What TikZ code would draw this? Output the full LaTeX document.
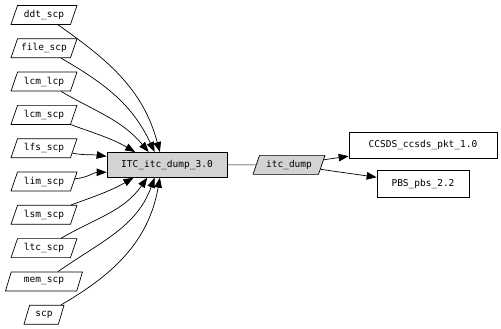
\documentclass[tikz,border=0pt]{standalone}
\usepackage{fontspec}
\setmonofont{DejaVu Sans Mono}
\usepackage{xcolor}
\usepackage{tikz}
\usetikzlibrary{positioning, shapes.geometric, arrows.meta}
\definecolor{boxgray}{HTML}{D3D3D3}

\begin{document}
\begin{tikzpicture}[node distance=33.3pt, on grid, line width=0.7pt,
        >={Triangle[length=10pt,width=7.5pt]},
        every node/.style={font=\ttfamily\fontsize{9.5}{11}\selectfont},
        scpnode/.style={draw, trapezium, trapezium left angle=68, trapezium right angle=112,
            trapezium stretches body, minimum width=66pt, minimum height=19pt, inner xsep=1pt},
        pkg/.style={draw, rectangle, minimum height=26pt}]
        \useasboundingbox (0,0) rectangle (501pt,-329pt);

        \node[scpnode] (ddt) at (44pt,-15pt) {ddt\_scp};
        \node[scpnode] (file) [below=of ddt] {file\_scp};
        \node[scpnode] (lcmlcp) [below=of file] {lcm\_lcp};
        \node[scpnode] (lcmscp) [below=of lcmlcp] {lcm\_scp};
        \node[scpnode] (lfs) [below=of lcmscp] {lfs\_scp};
        \node[scpnode] (lim) [below=of lfs] {lim\_scp};
        \node[scpnode] (lsm) [below=of lim] {lsm\_scp};
        \node[scpnode] (ltc) [below=of lsm] {ltc\_scp};
        \node[scpnode, minimum width=77pt] (mem) [below=of ltc] {mem\_scp};
        \node[scpnode, minimum width=40pt] (scp) [below=of mem] {scp};

        \node[pkg, fill=boxgray, minimum width=120pt, minimum height=25pt] (itc) [below right=16.65pt and 123pt of lfs] {ITC\_itc\_dump\_3.0};
        \node[scpnode, fill=boxgray, minimum width=72pt] (dump) [right=122pt of itc] {itc\_dump};
        \node[pkg, minimum width=148pt] (ccsds) [above right=19.5pt and 134pt of dump] {CCSDS\_ccsds\_pkt\_1.0};
        \node[pkg, minimum width=92pt, minimum height=27pt] (pbs) [below right=19pt and 134pt of dump] {PBS\_pbs\_2.2};

        \path[->]
        (ddt) edge [out=-35, in=105] (itc.119)
        (file) edge [out=-30, in=115] (itc.134)
        (lcmlcp) edge [out=-30, in=130] (itc.145)
        (lcmscp) edge [out=-20, in=150] (itc.158)
        (lfs) edge [out=-10, in=172] (itc.172)
        (lim) edge [out=5, in=180] (itc.187)
        (lsm) edge [out=20, in=-150] (itc.201)
        (ltc) edge [out=30, in=-125] (itc.213)
        (mem) edge [out=35, in=-110] (itc.226)
        (scp) edge [out=30, in=-100] (itc.241);

        \draw (itc) -- (dump);
        \draw[->] (dump) -- (ccsds);
        \draw[->] (dump) -- (pbs);
\end{tikzpicture}
\end{document}
